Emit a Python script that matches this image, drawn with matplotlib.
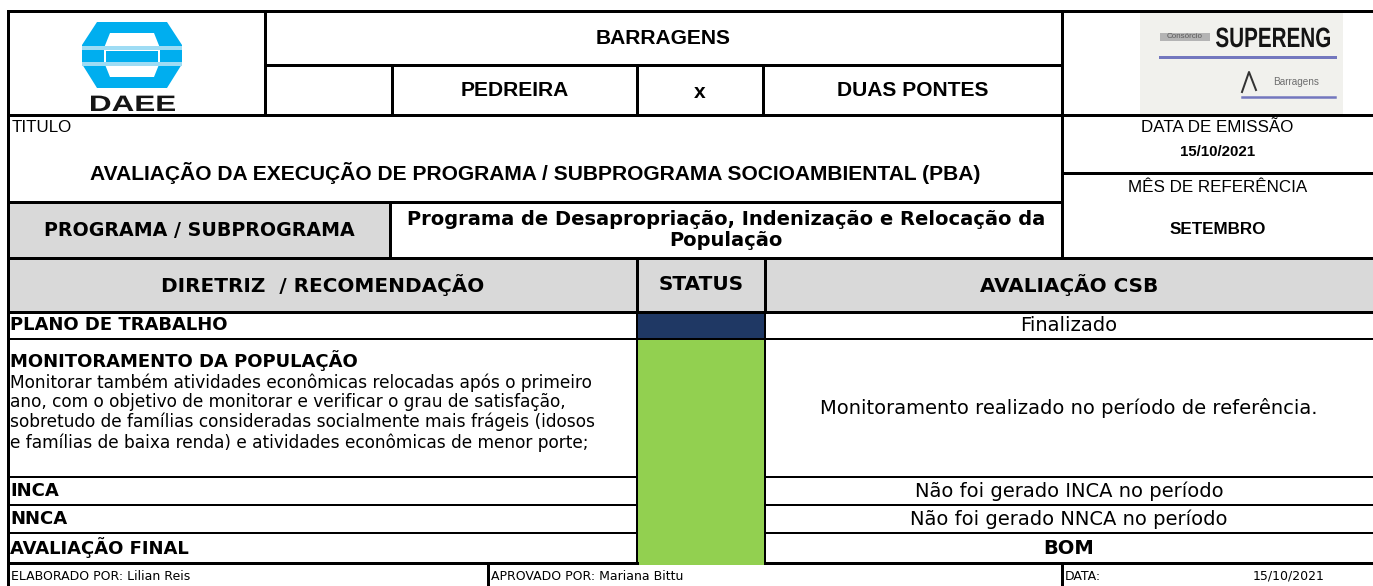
import matplotlib
matplotlib.use('Agg')
import matplotlib.pyplot as plt
from matplotlib.patches import Rectangle, Polygon, PathPatch
from matplotlib.textpath import TextPath
from matplotlib.font_manager import FontProperties
from matplotlib.transforms import Affine2D

# ---- content ----
project = "BARRAGENS"
dams = ["PEDREIRA", "x", "DUAS PONTES"]
title_label = "TITULO"
title = "AVALIAÇÃO DA EXECUÇÃO DE PROGRAMA / SUBPROGRAMA SOCIOAMBIENTAL (PBA)"
issue_label = "DATA DE EMISSÃO"
issue_date = "15/10/2021"
month_label = "MÊS DE REFERÊNCIA"
month = "SETEMBRO"
program_label = "PROGRAMA / SUBPROGRAMA"
program = "Programa de Desapropriação, Indenização e Relocação da\nPopulação"
col_headers = ["DIRETRIZ  / RECOMENDAÇÃO", "STATUS", "AVALIAÇÃO CSB"]
row_labels = ["PLANO DE TRABALHO", "MONITORAMENTO DA POPULAÇÃO", "INCA", "NNCA",
              "AVALIAÇÃO FINAL"]
row_details = ["",
               "Monitorar também atividades econômicas relocadas após o primeiro\n"
               "ano, com o objetivo de monitorar e verificar o grau de satisfação,\n"
               "sobretudo de famílias consideradas socialmente mais frágeis (idosos\n"
               "e famílias de baixa renda) e atividades econômicas de menor porte;",
               "", "", ""]
status = ["concluido", "ok", "ok", "ok", "ok"]
evaluations = ["Finalizado", "Monitoramento realizado no período de referência.",
               "Não foi gerado INCA no período", "Não foi gerado NNCA no período", "BOM"]
footer = ["ELABORADO POR: Lilian Reis", "APROVADO POR: Mariana Bittu", "DATA:", "15/10/2021"]

status_colors = {"concluido": "#1F3864", "ok": "#92D050"}
GRAY = "#D9D9D9"
ARIAL = "Liberation Sans"
VERD = "DejaVu Sans"

W, H = 1373, 586
fig = plt.figure(figsize=(W / 72, H / 72), dpi=72)
ax = fig.add_axes([0, 0, 1, 1])
ax.set_xlim(0, W)
ax.set_ylim(H, 0)
ax.axis('off')

# layout (pixels)
L, R = 8, W
xlogo, xright = 265, 1062
xd = [392, 637, 763]
xprog = 390
xs0, xs1 = 637, 765
xfoot = 488
row_y = [312, 339, 477, 505, 533]
ybot = 563


def hl(y, x0, x1, lw=3):
    ax.plot([x0, x1], [y, y], color='black', lw=lw, solid_capstyle='projecting')


def vl(x, y0, y1, lw=3):
    ax.plot([x, x], [y0, y1], color='black', lw=lw, solid_capstyle='projecting')


def boxtext(s, x0, x1, ybase, capheight, color, weight='bold'):
    # text squeezed into a given width (logo lettering)
    tp = TextPath((0, 0), s, size=100, prop=FontProperties(family=ARIAL, weight=weight))
    ext = tp.get_extents()
    sx = (x1 - x0) / ext.width
    sy = capheight / 71.6
    tr = Affine2D().translate(-ext.x0, 0).scale(sx, -sy).translate(x0, ybase)
    ax.add_patch(PathPatch(tr.transform_path(tp), color=color, lw=0))


# fills
ax.add_patch(Rectangle((L, 202), xprog - L, 56, color=GRAY, lw=0))
ax.add_patch(Rectangle((L, 258), R - L, row_y[0] - 258, color=GRAY, lw=0))
ys = row_y + [ybot]
for i, st in enumerate(status):
    y0 = ys[i]
    y1 = ys[i + 1] + (2 if i == len(status) - 1 else 0)
    ax.add_patch(Rectangle((xs0, y0), xs1 - xs0, y1 - y0, color=status_colors[st], lw=0))

# grid lines
hl(11, L, R)
hl(65, xlogo, xright)
hl(115, L, R)
hl(173, xright, R)
hl(202, L, xright)
hl(258, L, R)
hl(312, L, R)
hl(339, L, R, 2)
for y in row_y[2:]:
    hl(y, L, xs0, 2)
    hl(y, xs1, R, 2)
hl(ybot, L, xs0, 3)
hl(ybot, xs1, R, 3)
vl(L, 11, H)
vl(xlogo, 11, 115)
vl(xright, 11, 258)
for x in xd:
    vl(x, 65, 115)
vl(xprog, 202, 258)
vl(xs0, 258, 312)
vl(xs1, 258, 312)
vl(xs0, 312, ybot, 2)
vl(xs1, 312, ybot, 2)
vl(xfoot, ybot, H)
vl(xright, ybot, H)

# DAEE logo
blue, lblue = "#00AEEF", "#9EDCF4"
ax.add_patch(Polygon([(97, 22), (167, 22), (182, 45), (182, 64), (167, 88), (97, 88),
                      (82, 64), (82, 45)], closed=True, color=blue, lw=0))
ax.add_patch(Polygon([(110, 33), (154, 33), (160, 48), (160, 62), (154, 77), (110, 77),
                      (104, 62), (104, 48)], closed=True, color='white', lw=0))
ax.add_patch(Rectangle((82, 46), 100, 4, color=lblue, lw=0))
ax.add_patch(Rectangle((82, 62), 100, 4, color=lblue, lw=0))
ax.add_patch(Rectangle((106, 51), 52, 11, color=blue, lw=0))
boxtext("DAEE", 91, 175, 111, 16, '#151515')

# SUPERENG logo
ax.add_patch(Rectangle((1140, 12), 203, 102, color="#F1F1ED", lw=0))
ax.add_patch(Rectangle((1160, 33), 50, 8, color="#B4B4B4", lw=0))
ax.text(1185, 37, "Consórcio", family=ARIAL, size=8, ha='center', va='center', color='#5A5A5A')
boxtext("SUPERENG", 1216, 1330, 47, 20, '#141414')
ax.plot([1160, 1335], [57, 57], color="#7377BE", lw=3)
ax.plot([1242, 1249, 1256], [92, 72, 90], color="#333333", lw=2)
ax.text(1296, 82, "Barragens", family=ARIAL, size=10, ha='center', va='center', color='#6E6E6E')
ax.plot([1242, 1335], [97, 97], color="#7377BE", lw=2.5)

# header texts
HF = 21
ax.text((xlogo + xright) / 2, 38, project, family=ARIAL, weight='bold', size=HF,
        ha='center', va='center')
dcx = [(xd[0] + xd[1]) / 2, (xd[1] + xd[2]) / 2, (xd[2] + xright) / 2]
for cx, name in zip(dcx, dams):
    ax.text(cx, 92 if name == "x" else 90, name, family=ARIAL, weight='bold',
            size=HF, ha='center', va='center')

ax.text(12, 128, title_label, family=ARIAL, size=17, ha='left', va='center')
ax.text((L + xright) / 2, 173, title, family=ARIAL, weight='bold', size=HF,
        ha='center', va='center')
rcx = (xright + R) / 2
ax.text(rcx, 128, issue_label, family=ARIAL, size=17, ha='center', va='center')
ax.text(rcx, 152, issue_date, family=ARIAL, weight='bold', size=15, ha='center', va='center')
ax.text(rcx, 188, month_label, family=ARIAL, size=17, ha='center', va='center')
ax.text(rcx, 229, month, family=ARIAL, weight='bold', size=17, ha='center', va='center')

ax.text((L + xprog) / 2, 230, program_label, family=VERD, weight='bold', size=19,
        ha='center', va='center')
ax.text((xprog + xright) / 2, 230, program, family=VERD, weight='bold', size=19.5,
        ha='center', va='center', linespacing=1.1)

hcx = [(L + xs0) / 2, (xs0 + xs1) / 2, (xs1 + R) / 2]
for cx, h in zip(hcx, col_headers):
    ax.text(cx, 285, h, family=VERD, weight='bold', size=20, ha='center', va='center')

# body rows
for i, lab in enumerate(row_labels):
    y0, y1 = ys[i], ys[i + 1]
    if row_details[i]:
        ax.text(10, y0 + 22, lab, family=VERD, weight='bold', size=18, ha='left', va='center')
        ax.text(10, y0 + 34, row_details[i], family=VERD, size=17, ha='left', va='top',
                linespacing=1.12)
    else:
        ax.text(10, (y0 + y1) / 2, lab, family=VERD, weight='bold', size=18,
                ha='left', va='center')
    bold = evaluations[i] == "BOM"
    ax.text(hcx[2], (y0 + y1) / 2, evaluations[i], family=VERD,
            weight='bold' if bold else 'normal', size=19.5, ha='center', va='center')

# footer
ax.text(11, 576, footer[0], family=VERD, size=12.5, ha='left', va='center')
ax.text(491, 576, footer[1], family=VERD, size=12.5, ha='left', va='center')
ax.text(1065, 576, footer[2], family=VERD, size=12.5, ha='left', va='center')
ax.text(1325, 576, footer[3], family=VERD, size=12.5, ha='right', va='center')

fig.savefig("out.png", dpi=72)
